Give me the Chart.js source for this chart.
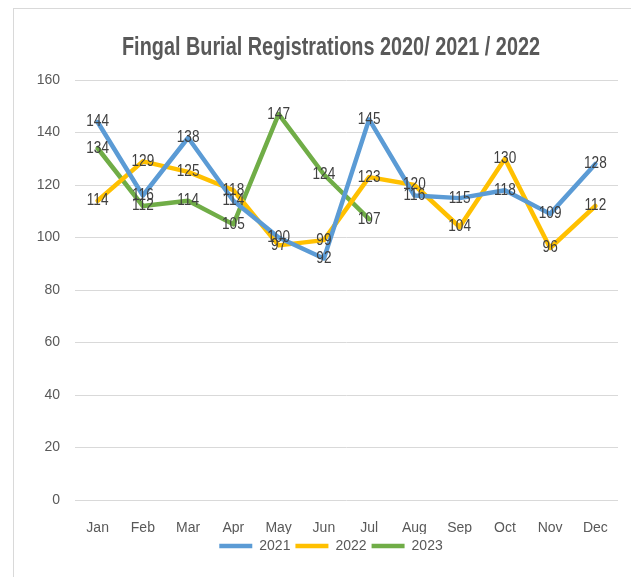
<!DOCTYPE html>
<html>
<head>
<meta charset="utf-8">
<script src="https://cdn.jsdelivr.net/npm/chart.js@4.4.1/dist/chart.umd.min.js"></script>
<style>
  html, body { margin: 0; padding: 0; background: #fff; overflow: hidden; }
  #frame {
    position: absolute; left: 13px; top: 8px;
    width: 634px; height: 568px;
    border-left: 1px solid #d9d9d9; border-top: 1px solid #d9d9d9;
  }
  #frame canvas { display: block; }
</style>
</head>
<body>
<div id="frame"><canvas id="burials" width="634" height="568"></canvas></div>
<script>
const months = ['Jan', 'Feb', 'Mar', 'Apr', 'May', 'Jun', 'Jul', 'Aug', 'Sep', 'Oct', 'Nov', 'Dec'];
const reg2021 = [144, 116, 138, 114, 100, 92, 145, 116, 115, 118, 109, 128];
const reg2022 = [114, 129, 125, 118, 97, 99, 123, 120, 104, 130, 96, 112];
const reg2023 = [134, 112, 114, 105, 147, 124, 107, null, null, null, null, null];
const yTicks = [0, 20, 40, 60, 80, 100, 120, 140, 160];
const chartTitle = 'Fingal Burial Registrations 2020/ 2021 / 2022';

const FONT = "'Liberation Sans', Arial, sans-serif";

// excel draws everything in calibri, which is narrow; squeeze our text a bit with maxWidth
function narrowText(ctx, txt, x, y, squeeze) {
  const w = ctx.measureText(txt).width;
  ctx.fillText(txt, x, y, w * squeeze);
}

const titleDraw = {
  id: 'titleDraw',
  afterDraw(chart) {
    const ctx = chart.ctx;
    ctx.save();
    ctx.font = 'bold 25px ' + FONT;
    ctx.fillStyle = '#595959';
    ctx.textAlign = 'center';
    ctx.textBaseline = 'alphabetic';
    ctx.fillText(chartTitle, chart.width / 2, 46, 418);
    ctx.restore();
  }
};

// labels centred on each point, like the excel data labels
const pointLabels = {
  id: 'pointLabels',
  afterDatasetsDraw(chart) {
    const ctx = chart.ctx;
    ctx.save();
    ctx.font = '16px ' + FONT;
    ctx.fillStyle = '#404040';
    ctx.textAlign = 'center';
    ctx.textBaseline = 'middle';
    chart.data.datasets.forEach((ds, i) => {
      const meta = chart.getDatasetMeta(i);
      meta.data.forEach((pt, j) => {
        const v = ds.data[j];
        if (v === null || v === undefined) return;
        narrowText(ctx, String(v), pt.x, pt.y, 0.85);
      });
    });
    ctx.restore();
  }
};

function line(label, data, color) {
  return {
    label: label,
    data: data,
    borderColor: color,
    backgroundColor: color,
    borderWidth: 4.5,
    pointRadius: 0,
    pointHoverRadius: 0,
    tension: 0,
    borderJoinStyle: 'round',
    borderCapStyle: 'round',
    spanGaps: false
  };
}

new Chart(document.getElementById('burials').getContext('2d'), {
  type: 'line',
  data: {
    labels: months,
    datasets: [
      line('2021', reg2021, '#5b9bd5'),
      line('2022', reg2022, '#ffc000'),
      line('2023', reg2023, '#70ad47')
    ]
  },
  options: {
    responsive: false,
    animation: false,
    layout: { padding: { top: 71, bottom: 14, left: 0, right: 0 } },
    plugins: {
      title: { display: false },
      legend: {
        display: true,
        position: 'bottom',
        labels: {
          usePointStyle: true,
          pointStyle: 'line',
          pointStyleWidth: 33,
          color: '#595959',
          font: { family: FONT, size: 14, lineHeight: 1 },
          padding: 5
        }
      },
      tooltip: { enabled: false }
    },
    scales: {
      x: {
        offset: true,
        afterFit: s => { s.height = 34; },
        grid: { display: false, drawTicks: false },
        border: { display: false },
        ticks: {
          color: '#595959',
          font: { family: FONT, size: 14, lineHeight: 1 },
          padding: 21,
          maxRotation: 0
        }
      },
      y: {
        min: 0,
        max: 160,
        afterBuildTicks: s => { s.ticks = yTicks.map(v => ({ value: v })); },
        afterFit: s => { s.width = 61; },
        grid: { color: '#d9d9d9', lineWidth: 1, drawTicks: false },
        border: { display: false },
        ticks: {
          color: '#595959',
          font: { family: FONT, size: 14 },
          padding: 15
        }
      },
      pad: {
        position: 'right',
        afterFit: s => { s.width = 30; },
        grid: { display: false },
        border: { display: false },
        ticks: { display: false }
      }
    }
  },
  plugins: [pointLabels, titleDraw]
});
</script>
</body>
</html>
